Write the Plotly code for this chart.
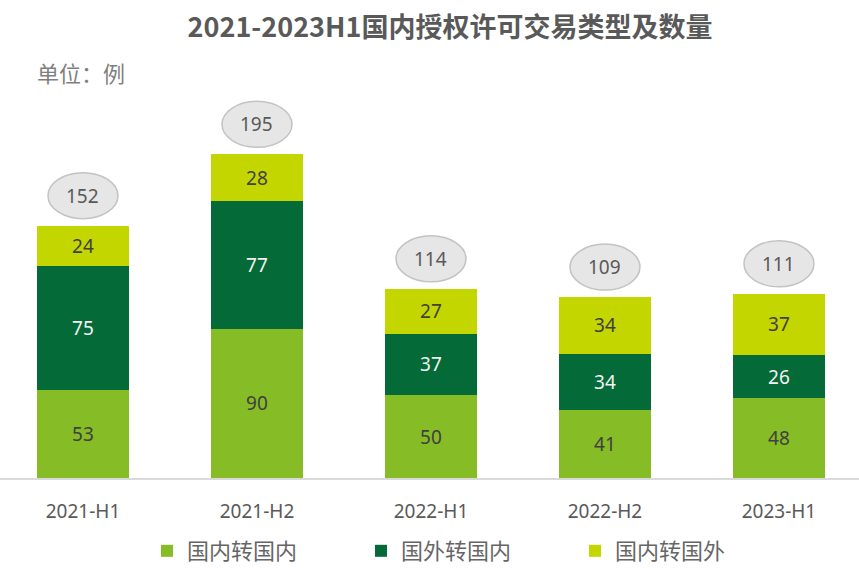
import plotly.graph_objects as go

categories = ["2021-H1", "2021-H2", "2022-H1", "2022-H2", "2023-H1"]
dom_to_dom = [53, 90, 50, 41, 48]      # 国内转国内
for_to_dom = [75, 77, 37, 34, 26]      # 国外转国内
dom_to_for = [24, 28, 27, 34, 37]      # 国内转国外
totals = [152, 195, 114, 109, 111]
series_names = ["国内转国内", "国外转国内", "国内转国外"]

colors = ["#86BC25", "#046A38", "#C4D600"]
text_colors = ["#404040", "#F2F2F2", "#404040"]
num_font = "Noto Sans"
cjk_font = "Noto Sans CJK SC"

fig = go.Figure()
for vals, name, col, tcol in zip([dom_to_dom, for_to_dom, dom_to_for], series_names, colors, text_colors):
    fig.add_trace(go.Bar(
        x=categories, y=vals, name=name,
        marker=dict(color=col, line=dict(width=0)),
        width=0.53,
        text=vals, textposition="inside", insidetextanchor="middle",
        textfont=dict(family=num_font, size=19, color=tcol),
        constraintext="none",
        hoverinfo="skip",
    ))

# total bubbles
for cat, tot in zip(categories, totals):
    fig.add_shape(type="circle", xref="x", yref="y",
                  xsizemode="pixel", ysizemode="pixel",
                  xanchor=cat, yanchor=tot,
                  x0=-35, x1=35, y0=7, y1=53,
                  fillcolor="#E6E6E6", line=dict(color="#C3C3C3", width=1.5),
                  layer="above")
    fig.add_annotation(x=cat, y=tot, text=str(tot), showarrow=False,
                       yshift=30, font=dict(family=num_font, size=19, color="#595959"))

fig.add_annotation(xref="paper", yref="paper", x=35/859, y=(478-72)/398,
                   xanchor="left", yanchor="middle", showarrow=False,
                   text="单位：例", font=dict(family=cjk_font, size=22, color="#7F7F7F"))

fig.update_layout(
    width=859, height=574,
    margin=dict(l=0, r=0, t=80, b=96),
    paper_bgcolor="white", plot_bgcolor="white",
    barmode="stack",
    title=dict(text="<b>2021-2023H1国内授权许可交易类型及数量</b>",
               x=450/859, xanchor="center", y=1-28/574, yanchor="middle",
               font=dict(family=cjk_font, size=27, color="#595959")),
    xaxis=dict(range=[-0.477, 4.460], showgrid=False, showline=True,
               linecolor="#D9D9D9", linewidth=2, ticks="",
               tickfont=dict(family=num_font, size=19, color="#595959"),
               ticklabelstandoff=15, fixedrange=True),
    yaxis=dict(range=[0, 239.8], visible=False, fixedrange=True),
    legend=dict(orientation="h", x=147/859, xanchor="left",
                y=(478-551)/398, yanchor="middle",
                entrywidth=169, traceorder="normal",
                font=dict(family=cjk_font, size=22, color="#666666"),
                bgcolor="rgba(0,0,0,0)"),
    showlegend=True,
)

fig.write_html("out.html")
